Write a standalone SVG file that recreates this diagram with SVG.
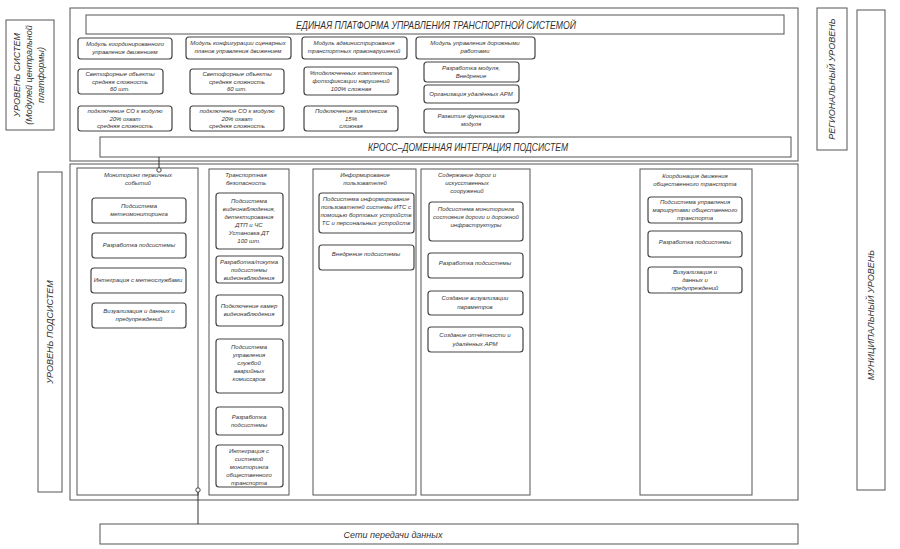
<svg xmlns="http://www.w3.org/2000/svg" width="900" height="549" viewBox="0 0 900 549">
<style>
.frame{fill:none;stroke:#555;stroke-width:1}
.col{fill:#fff;stroke:#555;stroke-width:1}
.node{fill:#fff;stroke:#444;stroke-width:1.2}
.t{font-family:"Liberation Sans",Arial,sans-serif;font-style:italic;fill:#333;text-anchor:middle}
.s{font-size:6px}
.m{font-size:6.3px}
.h{font-size:11px}
.l{font-size:9px}
.conn{fill:none;stroke:#333;stroke-width:1}
.dot{fill:#fff;stroke:#333;stroke-width:0.9}
</style>
<rect width="900" height="549" fill="#fff"/>

<g id="label-systems">
<rect class="frame" x="6" y="20" width="48" height="110"/>
<text class="t l" transform="translate(20,75) rotate(-90)">УРОВЕНЬ  СИСТЕМ</text>
<text class="t l" transform="translate(32,75) rotate(-90)">(Модулей  центральной</text>
<text class="t l" transform="translate(44,75) rotate(-90)">платформы)</text>
</g>
<g id="label-subsystems">
<rect class="frame" x="38" y="172" width="24" height="320"/>
<text class="t l" transform="translate(53,332) rotate(-90)">УРОВЕНЬ  ПОДСИСТЕМ</text>
</g>
<g id="label-regional">
<rect class="frame" x="817" y="8" width="30" height="142"/>
<text class="t l" transform="translate(835,79) rotate(-90)">РЕГИОНАЛЬНЫЙ  УРОВЕНЬ</text>
</g>
<g id="label-municipal">
<rect class="frame" x="857" y="10" width="28" height="480"/>
<text class="t l" transform="translate(874,315) rotate(-90)">МУНИЦИПАЛЬНЫЙ  УРОВЕНЬ</text>
</g>

<g id="platform">
<rect class="frame" x="70" y="8" width="728" height="153"/>
</g>
<g id="platform-title">
<rect class="frame" x="86" y="15" width="698" height="19"/>
<text class="t h" x="436" y="29" textLength="280" lengthAdjust="spacingAndGlyphs">ЕДИНАЯ  ПЛАТФОРМА  УПРАВЛЕНИЯ  ТРАНСПОРТНОЙ  СИСТЕМОЙ</text>
</g>

<g id="mod-coord">
<rect class="node" x="78" y="38" width="94" height="21" rx="3"/>
<text class="t s" x="125" y="46">Модуль координированного</text>
<text class="t s" x="125" y="54">управления движением</text>
</g>
<g id="mod-config">
<rect class="node" x="186" y="37" width="105" height="22" rx="3"/>
<text class="t s" x="238" y="45">Модуль конфигурации сценарных</text>
<text class="t s" x="238" y="53">планов управления движением</text>
</g>
<g id="mod-admin">
<rect class="node" x="302" y="37" width="105" height="22" rx="3"/>
<text class="t s" x="354" y="45">Модуль администрирования</text>
<text class="t s" x="354" y="53">транспортных правонарушений</text>
</g>
<g id="mod-roads">
<rect class="node" x="416" y="37" width="119" height="22" rx="3"/>
<text class="t s" x="475" y="45">Модуль управления дорожными</text>
<text class="t s" x="475" y="53">работами</text>
</g>

<g id="coord-lights">
<rect class="node" x="78" y="69" width="85" height="25" rx="3"/>
<text class="t s" x="120" y="76">Светофорные объекты</text>
<text class="t s" x="120" y="84">средняя сложность</text>
<text class="t s" x="120" y="91">60 шт.</text>
</g>
<g id="config-lights">
<rect class="node" x="190" y="69" width="94" height="25" rx="3"/>
<text class="t s" x="237" y="76">Светофорные объекты</text>
<text class="t s" x="237" y="84">средняя сложность</text>
<text class="t s" x="237" y="91">60 шт.</text>
</g>
<g id="admin-photo">
<rect class="node" x="304" y="67" width="94" height="28" rx="3"/>
<text class="t s" x="351" y="75">%подключенных комплектов</text>
<text class="t s" x="351" y="83">фотофиксации нарушений</text>
<text class="t s" x="351" y="91">100% сложная</text>
</g>
<g id="coord-co">
<rect class="node" x="78" y="106" width="94" height="25" rx="3"/>
<text class="t s" x="125" y="113">подключение СО к модулю</text>
<text class="t s" x="125" y="121">20% охват</text>
<text class="t s" x="125" y="128">средняя сложность</text>
</g>
<g id="config-co">
<rect class="node" x="190" y="106" width="94" height="25" rx="3"/>
<text class="t s" x="237" y="113">подключение СО к модулю</text>
<text class="t s" x="237" y="121">20% охват</text>
<text class="t s" x="237" y="128">средняя сложность</text>
</g>
<g id="admin-connect">
<rect class="node" x="304" y="106" width="94" height="25" rx="3"/>
<text class="t s" x="351" y="113">Подключение комплексов</text>
<text class="t s" x="351" y="121">15%</text>
<text class="t s" x="351" y="128">сложная</text>
</g>
<g id="roads-dev">
<rect class="node" x="424" y="62" width="95" height="20" rx="3"/>
<text class="t s" x="471" y="70">Разработка модуля,</text>
<text class="t s" x="471" y="78">Внедрение</text>
</g>
<g id="roads-arm">
<rect class="node" x="424" y="85" width="95" height="18" rx="3"/>
<text class="t s" x="471" y="96">Организация удалённых АРМ</text>
</g>
<g id="roads-func">
<rect class="node" x="424" y="109" width="95" height="24" rx="3"/>
<text class="t s" x="471" y="118">Развитие функционала</text>
<text class="t s" x="471" y="126">модуля</text>
</g>

<g id="cross-domain">
<rect class="frame" x="100" y="137" width="691" height="20"/>
<text class="t h" x="468" y="151" textLength="200" lengthAdjust="spacingAndGlyphs">КРОСС–ДОМЕННАЯ  ИНТЕГРАЦИЯ  ПОДСИСТЕМ</text>
</g>

<g id="subsystems">
<rect class="frame" x="70" y="164" width="728" height="336"/>
</g>

<g id="col-monitoring">
<rect class="col" x="77" y="168" width="121" height="327"/>
<text class="t s" x="138" y="177">Мониторинг первичных</text>
<text class="t s" x="138" y="185">событий</text>
<rect class="node" x="92" y="198" width="94" height="25" rx="3"/>
<text class="t s" x="139" y="208">Подсистема</text>
<text class="t s" x="139" y="216">метеомониторинга</text>
<rect class="node" x="92" y="233" width="94" height="25" rx="3"/>
<text class="t s" x="139" y="247">Разработка подсистемы</text>
<rect class="node" x="91" y="268" width="95" height="25" rx="3"/>
<text class="t s" x="138" y="282">Интеграция с метеослужбами</text>
<rect class="node" x="92" y="303" width="94" height="25" rx="3"/>
<text class="t s" x="139" y="313">Визуализация и данных и</text>
<text class="t s" x="139" y="321">предупреждений</text>
</g>

<g id="col-safety">
<rect class="col" x="209" y="169" width="80" height="326"/>
<text class="t s" x="246" y="177">Транспортная</text>
<text class="t s" x="246" y="185">безопасность</text>
<rect class="node" x="216" y="193" width="67" height="56" rx="3"/>
<text class="t s" x="249" y="203">Подсистема</text>
<text class="t s" x="249" y="211">видеонаблюдения,</text>
<text class="t s" x="249" y="219">детектирования</text>
<text class="t s" x="249" y="227">ДТП и ЧС</text>
<text class="t s" x="249" y="235">Установка ДТ</text>
<text class="t s" x="249" y="243">100 шт.</text>
<rect class="node" x="216" y="256" width="67" height="27" rx="3"/>
<text class="t s" x="249" y="264">Разработка/покупка</text>
<text class="t s" x="249" y="272">подсистемы</text>
<text class="t s" x="249" y="280">видеонаблюдения</text>
<rect class="node" x="216" y="295" width="67" height="31" rx="3"/>
<text class="t s" x="249" y="308">Подключение камер</text>
<text class="t s" x="249" y="316">видеонаблюдения</text>
<rect class="node" x="216" y="339" width="67" height="54" rx="3"/>
<text class="t s" x="249" y="349">Подсистема</text>
<text class="t s" x="249" y="357">управления</text>
<text class="t s" x="249" y="365">службой</text>
<text class="t s" x="249" y="373">аварийных</text>
<text class="t s" x="249" y="381">комиссаров</text>
<rect class="node" x="216" y="407" width="67" height="28" rx="3"/>
<text class="t s" x="249" y="419">Разработка</text>
<text class="t s" x="249" y="427">подсистемы</text>
<rect class="node" x="216" y="445" width="67" height="42" rx="3"/>
<text class="t s" x="249" y="453">Интеграция с</text>
<text class="t s" x="249" y="461">системой</text>
<text class="t s" x="249" y="469">мониторинга</text>
<text class="t s" x="249" y="477">общественного</text>
<text class="t s" x="249" y="485">транспорта</text>
</g>

<g id="col-info">
<rect class="col" x="313" y="169" width="103" height="326"/>
<text class="t s" x="365" y="177">Информирование</text>
<text class="t s" x="365" y="185">пользователей</text>
<rect class="node" x="319" y="193" width="95" height="40" rx="3"/>
<text class="t s" x="366" y="201">Подсистема информирование</text>
<text class="t s" x="366" y="209">пользователей системы ИТС с</text>
<text class="t s" x="366" y="217">помощью бортовых устройств</text>
<text class="t s" x="366" y="225">ТС и персональных устройств</text>
<rect class="node" x="319" y="245" width="95" height="25" rx="3"/>
<text class="t s" x="366" y="256">Внедрение подсистемы</text>
</g>

<g id="col-roads">
<rect class="col" x="421" y="169" width="109" height="326"/>
<text class="t s" x="467" y="177">Содержание дорог и</text>
<text class="t s" x="467" y="185">искусственных</text>
<text class="t s" x="467" y="193">сооружений</text>
<rect class="node" x="429" y="202" width="94" height="39" rx="3"/>
<text class="t s" x="476" y="211">Подсистема мониторинга</text>
<text class="t s" x="476" y="219">состояния дороги и дорожной</text>
<text class="t s" x="476" y="227">инфраструктуры</text>
<rect class="node" x="428" y="253" width="95" height="25" rx="3"/>
<text class="t s" x="475" y="265">Разработка подсистемы</text>
<rect class="node" x="428" y="291" width="95" height="24" rx="3"/>
<text class="t s" x="475" y="300">Создание визуализации</text>
<text class="t s" x="475" y="309">параметров</text>
<rect class="node" x="428" y="327" width="95" height="25" rx="3"/>
<text class="t s" x="475" y="337">Создание отчётности и</text>
<text class="t s" x="475" y="346">удалённых АРМ</text>
</g>

<g id="col-public">
<rect class="col" x="640" y="169" width="112" height="326"/>
<text class="t s" x="695" y="178">Координация движения</text>
<text class="t s" x="695" y="186">общественного транспорта</text>
<rect class="node" x="648" y="197" width="94" height="26" rx="3"/>
<text class="t s" x="695" y="204">Подсистема управления</text>
<text class="t s" x="695" y="212">маршрутами общественного</text>
<text class="t s" x="695" y="220">транспорта</text>
<rect class="node" x="648" y="231" width="94" height="26" rx="3"/>
<text class="t s" x="695" y="244">Разработка подсистемы</text>
<rect class="node" x="648" y="267" width="94" height="26" rx="3"/>
<text class="t s" x="695" y="274">Визуализация и</text>
<text class="t s" x="695" y="282">данных и</text>
<text class="t s" x="695" y="290">предупреждений</text>
</g>

<g id="network">
<rect class="frame" x="100" y="524" width="698" height="20"/>
<text class="t l" x="393" y="538">Сети передачи данных</text>
</g>

<g id="connectors">
<path class="conn" d="M159 157 V168"/>
<circle class="dot" cx="159" cy="170" r="2.2"/>
<path class="conn" d="M198 492 V524"/>
<circle class="dot" cx="198" cy="490" r="2.2"/>
</g>
</svg>
